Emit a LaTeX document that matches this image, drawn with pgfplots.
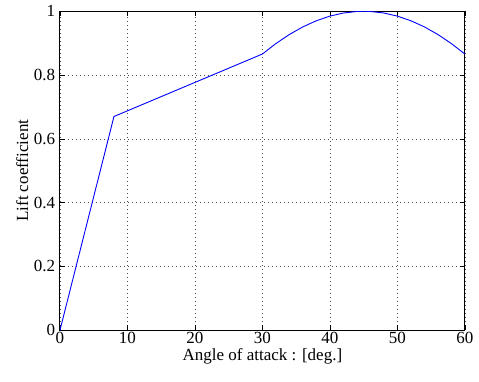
\documentclass[border=0pt]{standalone}
\usepackage{pgfplots}
\pgfplotsset{compat=1.18}
\usepackage{fontspec}
\setmainfont{Liberation Serif}[Ligatures=CommonOff]
\begin{document}
\fontsize{17}{19}\selectfont
\begin{tikzpicture}[x=1pt,y=1pt]
\begin{axis}[
  name=ax,
  at={(0,0)}, anchor=south west,
  scale only axis,
  width=405pt, height=319pt,
  xmin=0, xmax=60, ymin=0, ymax=1,
  xtick={0,10,...,60},
  ytick={0,0.2,0.4,0.6,0.8,1},
  yticklabels={0,0.2,0.4,0.6,0.8,1},
  /pgf/number format/assume math mode=true,
  tick align=inside,
  major tick length=5pt,
  tick style={black, line width=0.6pt},
  axis line style={black, line width=1pt},
  grid=major,
  grid style={black!70, dash pattern=on 1pt off 3pt, line width=0.6pt},
  xlabel={Angle of attack : [deg.]},
  ylabel={Lift coefficient},
  xlabel style={yshift=6pt},
  ylabel style={yshift=-6pt},
  xticklabel style={yshift=4pt},
  yticklabel style={xshift=1pt},
  tick label style={font=\fontsize{17}{19}\selectfont},
  label style={font=\fontsize{17}{19}\selectfont},
]
\addplot[blue, line width=0.9pt] coordinates {
(0,0) (8,0.67) (30,0.8660)
(32,0.8988) (34,0.9272) (36,0.9511) (38,0.9703) (40,0.9848) (42,0.9945) (44,0.9994) (45,1.0)
(46,0.9994) (48,0.9945) (50,0.9848) (52,0.9703) (54,0.9511) (56,0.9272) (58,0.8988) (60,0.8660)
};
\end{axis}
\path[use as bounding box] (ax.south west) ++(-60pt,-51pt) rectangle ([xshift=14pt,yshift=5pt]ax.north east);
\end{tikzpicture}
\end{document}
